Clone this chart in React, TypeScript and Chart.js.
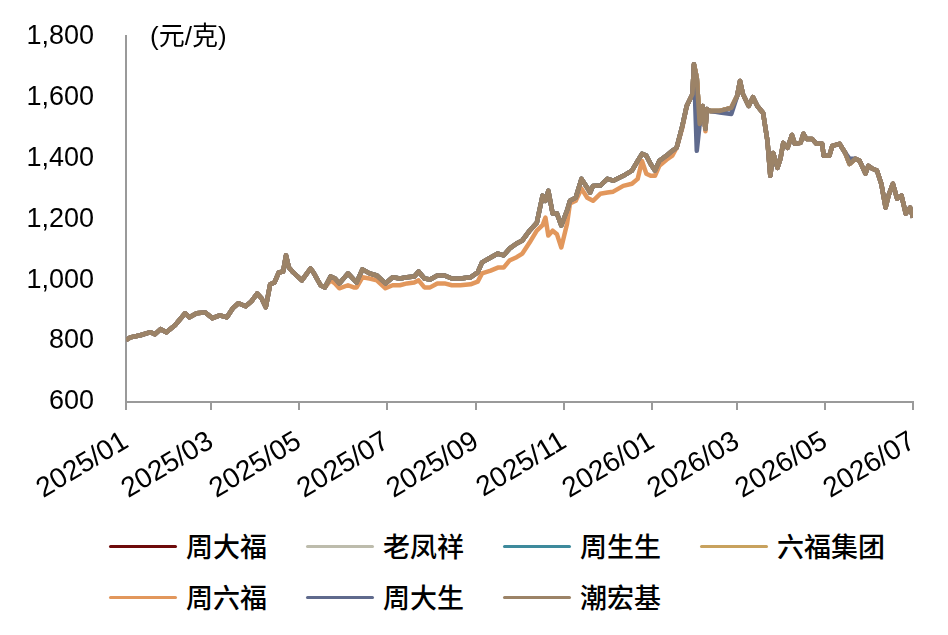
import React, { useEffect, useRef } from 'react';
import { Chart, registerables } from 'chart.js';

Chart.register(...registerables);

// days since 2025/01/01
const DAYS = [
  0, 3, 10, 17, 20, 24, 28, 34, 41, 44,
  49, 55, 60, 65, 70, 74, 78, 83, 87, 91,
  94, 97, 100, 103, 106, 109, 111, 113, 116, 122,
  128, 130, 135, 138, 142, 145, 148, 154, 158, 160,
  164, 169, 174, 180, 185, 190, 195, 200, 203, 207,
  211, 216, 221, 226, 232, 239, 244, 247, 253, 258,
  262, 266, 271, 275, 280, 285, 289, 291, 293, 296,
  299, 302, 306, 308, 312, 316, 320, 322, 324, 329,
  334, 338, 345, 351, 355, 358, 361, 364, 367, 370,
  375, 379, 382, 386, 389, 393, 394, 396, 398, 400,
  402, 403, 405, 412, 420, 424, 426, 428, 432, 435,
  438, 442, 445, 447, 449, 452, 454, 456, 459, 462,
  464, 468, 470, 472, 476, 479, 483, 484, 488, 490,
  495, 499, 502, 506, 509, 513, 515, 518, 521, 524,
  527, 529, 532, 535, 538, 541, 544, 546,
];

const X_TICK_DAYS = [0, 59, 120, 181, 243, 304, 365, 424, 485, 546];
const X_TICK_LABELS = ['2025/01', '2025/03', '2025/05', '2025/07', '2025/09', '2025/11', '2026/01', '2026/03', '2026/05', '2026/07'];
const Y_TICKS = [600, 800, 1000, 1200, 1400, 1600, 1800];

// 潮宏基 — the top line; 周大福 / 老凤祥 / 周生生 / 六福集团 sit right under it
const CHAO_HONG_JI = [
  803, 812, 819, 829, 822, 839, 829, 852, 891, 878,
  891, 894, 875, 884, 878, 907, 924, 914, 930, 956,
  940, 911, 986, 992, 1025, 1028, 1081, 1041, 1025, 999,
  1038, 1025, 983, 976, 1012, 1005, 989, 1022, 1002, 992,
  1035, 1022, 1015, 989, 1009, 1005, 1009, 1012, 1028, 1005,
  1002, 1015, 1015, 1005, 1005, 1009, 1025, 1058, 1074, 1087,
  1081, 1103, 1120, 1130, 1162, 1188, 1277, 1260, 1293, 1218,
  1218, 1179, 1228, 1260, 1270, 1332, 1303, 1287, 1309, 1310,
  1332, 1326, 1342, 1359, 1391, 1414, 1408, 1381, 1359, 1391,
  1408, 1424, 1434, 1506, 1571, 1610, 1708, 1663, 1512, 1571,
  1496, 1561, 1555, 1555, 1565, 1604, 1653, 1610, 1571, 1600,
  1571, 1548, 1457, 1342, 1417, 1368, 1398, 1450, 1434, 1476,
  1447, 1450, 1480, 1463, 1463, 1447, 1447, 1408, 1408, 1440,
  1447, 1417, 1381, 1398, 1391, 1349, 1375, 1365, 1359, 1316,
  1238, 1277, 1316, 1267, 1277, 1218, 1238, 1205,
];

const ZHOU_LIU_FU = [
  803, 812, 819, 829, 822, 839, 829, 852, 891, 878,
  891, 894, 875, 884, 878, 907, 924, 914, 930, 956,
  940, 911, 986, 992, 1025, 1028, 1081, 1041, 1025, 999,
  1038, 1025, 983, 976, 999, 989, 973, 983, 976, 976,
  1009, 1005, 999, 973, 983, 983, 989, 992, 999, 976,
  976, 989, 989, 983, 983, 986, 995, 1022, 1031, 1041,
  1041, 1064, 1075, 1087, 1123, 1162, 1180, 1205, 1146, 1162,
  1150, 1107, 1185, 1251, 1260, 1300, 1270, 1265, 1260, 1283,
  1287, 1290, 1309, 1316, 1332, 1391, 1349, 1342, 1342, 1375,
  1395, 1408, 1434, 1500, 1571, 1610, 1708, 1663, 1512, 1571,
  1488, 1561, 1555, 1555, 1565, 1604, 1653, 1610, 1571, 1600,
  1571, 1548, 1457, 1342, 1417, 1368, 1398, 1450, 1434, 1476,
  1447, 1450, 1480, 1463, 1463, 1447, 1447, 1408, 1408, 1440,
  1447, 1417, 1381, 1398, 1391, 1349, 1375, 1365, 1359, 1316,
  1238, 1277, 1316, 1267, 1277, 1218, 1238, 1205,
];

const ZHOU_DA_SHENG = [
  803, 812, 819, 829, 822, 839, 829, 852, 891, 878,
  891, 894, 875, 884, 878, 907, 924, 914, 930, 956,
  940, 911, 986, 992, 1025, 1028, 1081, 1041, 1025, 999,
  1038, 1025, 983, 976, 1012, 1005, 989, 1022, 1002, 992,
  1035, 1022, 1015, 989, 1009, 1005, 1009, 1012, 1028, 1005,
  1002, 1015, 1015, 1005, 1005, 1009, 1025, 1058, 1074, 1087,
  1081, 1103, 1120, 1130, 1162, 1188, 1277, 1260, 1293, 1218,
  1218, 1179, 1228, 1260, 1270, 1332, 1303, 1287, 1309, 1310,
  1332, 1326, 1342, 1359, 1391, 1414, 1408, 1381, 1359, 1391,
  1408, 1424, 1434, 1506, 1571, 1610, 1708, 1424, 1512, 1571,
  1496, 1561, 1555, 1550, 1545, 1604, 1653, 1610, 1571, 1600,
  1571, 1548, 1457, 1342, 1417, 1368, 1398, 1450, 1434, 1476,
  1447, 1450, 1480, 1463, 1463, 1447, 1447, 1408, 1408, 1440,
  1447, 1417, 1398, 1398, 1391, 1349, 1375, 1365, 1359, 1316,
  1238, 1277, 1316, 1267, 1277, 1218, 1238, 1205,
];

const SERIES_NAMES = ['周大福', '老凤祥', '周生生', '六福集团', '周六福', '周大生', '潮宏基'];
const SERIES_COLORS = ['#6E0B0B', '#BDBCAC', '#3E8A9C', '#C8A25E', '#E2975C', '#5F6A8D', '#9C8367'];
const SERIES_VALUES = [CHAO_HONG_JI, CHAO_HONG_JI, CHAO_HONG_JI, CHAO_HONG_JI, ZHOU_LIU_FU, ZHOU_DA_SHENG, CHAO_HONG_JI];

const NUM_FONT = '"Liberation Sans", Arial, sans-serif';
const CJK_FONT = '"Noto Sans CJK SC", sans-serif';
const AXIS_COLOR = '#9a9a9a';

const App: React.FC = () => {
  const canvasRef = useRef<HTMLCanvasElement>(null);
  const chartRef = useRef<Chart | null>(null);

  useEffect(() => {
    if (!canvasRef.current) return;
    chartRef.current?.destroy();

    chartRef.current = new Chart(canvasRef.current, {
      type: 'line',
      data: {
        datasets: SERIES_NAMES.map((name, i) => ({
          label: name,
          data: DAYS.map((d, j) => ({ x: d, y: SERIES_VALUES[i][j] })),
          borderColor: SERIES_COLORS[i],
          backgroundColor: SERIES_COLORS[i],
          borderWidth: 4.5,
          borderJoinStyle: 'round' as const,
          pointRadius: 0,
          tension: 0,
          fill: false,
          order: SERIES_NAMES.length - 1 - i,
        })),
      },
      options: {
        animation: false,
        responsive: true,
        maintainAspectRatio: false,
        layout: { padding: { top: 18, right: 35, left: 0, bottom: 0 } },
        plugins: {
          legend: { display: false },
          tooltip: { enabled: false },
        },
        scales: {
          x: {
            type: 'linear',
            min: 0,
            max: 546,
            afterBuildTicks: (s) => {
              s.ticks = X_TICK_DAYS.map(v => ({ value: v }));
            },
            afterFit: (s) => {
              s.height = 98;
            },
            ticks: {
              autoSkip: false,
              minRotation: 31,
              maxRotation: 31,
              padding: 15,
              color: '#000',
              font: { size: 28, family: NUM_FONT },
              callback: (v) => X_TICK_LABELS[X_TICK_DAYS.indexOf(Number(v))] ?? '',
            },
            grid: { display: true, drawOnChartArea: false, drawTicks: true, tickLength: 8, color: AXIS_COLOR, lineWidth: 2 },
            border: { display: true, color: AXIS_COLOR, width: 2 },
          },
          y: {
            min: 600,
            max: 1800,
            afterBuildTicks: (s) => {
              s.ticks = Y_TICKS.map(v => ({ value: v }));
            },
            afterFit: (s) => {
              s.width = 126;
            },
            ticks: {
              padding: 24,
              color: '#000',
              font: { size: 27, family: NUM_FONT },
              callback: (v) => Number(v).toLocaleString('en-US'),
            },
            grid: { display: false },
            border: { display: true, color: AXIS_COLOR, width: 2 },
          },
        },
      },
    });

    return () => {
      chartRef.current?.destroy();
      chartRef.current = null;
    };
  }, []);

  return (
    <div style={{ position: 'absolute', left: 0, top: 0, width: 948, height: 635, background: '#fff', overflow: 'hidden' }}>
      <div style={{ position: 'absolute', left: 0, top: -4, width: 948, height: 504 }}>
        <canvas ref={canvasRef} />
      </div>
      <div
        style={{
          position: 'absolute',
          left: 150,
          top: 22,
          fontSize: 26,
          lineHeight: '28px',
          fontFamily: `"Liberation Sans", Arial, ${CJK_FONT}`,
          color: '#000',
        }}
      >
        (元/克)
      </div>
      {/* legend */}
      <div
        style={{
          position: 'absolute',
          left: 109,
          top: 526,
          display: 'grid',
          gridTemplateColumns: 'repeat(4, 197px)',
          rowGap: 11,
        }}
      >
        {SERIES_NAMES.map((name, i) => (
          <div key={name} style={{ display: 'flex', alignItems: 'center', height: 40 }}>
            <div style={{ width: 68, height: 3, borderRadius: 2, background: SERIES_COLORS[i], marginRight: 9 }} />
            <span style={{ fontFamily: CJK_FONT, fontSize: 27, fontWeight: 500, lineHeight: '40px', color: '#000' }}>{name}</span>
          </div>
        ))}
      </div>
    </div>
  );
};

export default App;
